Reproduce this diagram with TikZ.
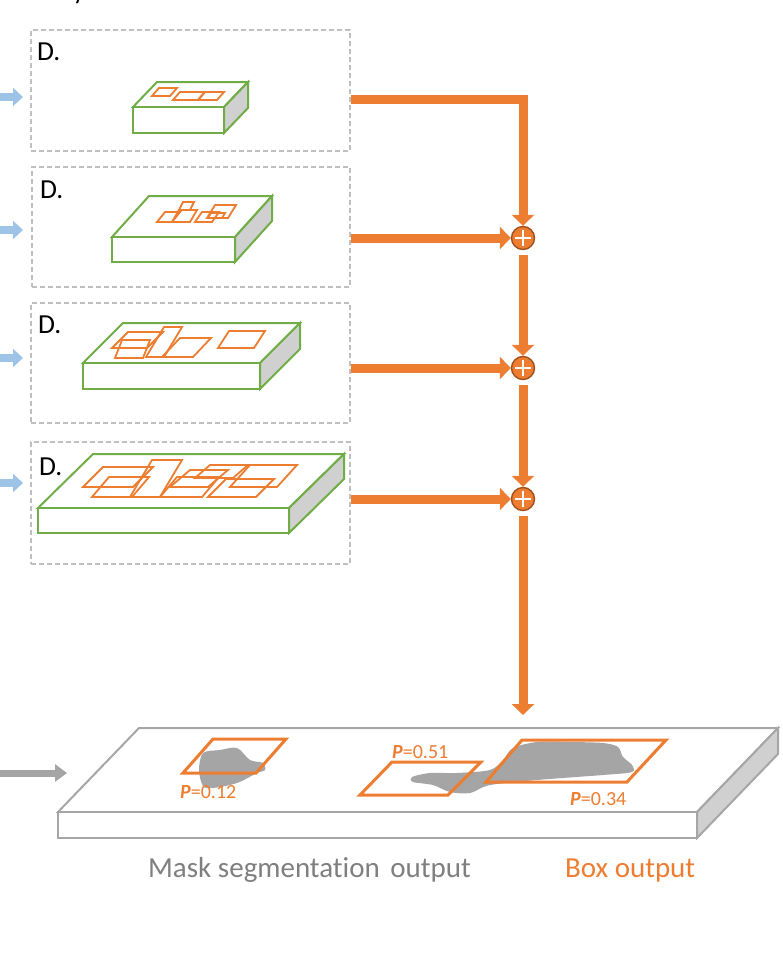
\documentclass[tikz,border=0pt]{standalone}
\usepackage{fontspec}
\setmainfont[Ligatures=NoCommon]{Carlito}
\usetikzlibrary{arrows.meta}
\definecolor{orng}{HTML}{ED7D31}
\definecolor{grn}{HTML}{70AD47}
\definecolor{lblue}{HTML}{9DC3E6}
\definecolor{sidegray}{HTML}{D0D0D0}
\definecolor{slabgray}{HTML}{A6A6A6}
\definecolor{blobgray}{HTML}{A5A5A5}
\definecolor{sumedge}{HTML}{A0501A}
\definecolor{txtgray}{HTML}{7F7F7F}
\definecolor{dashgray}{HTML}{BFBFBF}
\newcommand{\slab}[7]{%
  \filldraw[draw=#7, fill=white] (#1,#2) -- (#3,#2) -- ++(#5,#6) -- ++({#1-#3},0) -- cycle;
  \filldraw[draw=#7, fill=white] (#1,#2) rectangle (#3,#4);
  \filldraw[draw=#7, fill=sidegray] (#3,#2) -- ++(#5,#6) -- ++(0,{#4-#2}) -- (#3,#4) -- cycle;
}
\newcommand{\prect}[5]{\draw[boxline] (#1,#2) -- ++(#3,0) -- ++(#5,-#4) -- ++(-#3,0) -- cycle;}
\tikzset{
  dbox/.style={draw=dashgray, dash pattern=on 5pt off 3pt, line width=1.3pt,
    minimum width=319pt, minimum height=121pt, inner sep=0pt},
  lbl/.style={font=\fontsize{27.5}{32}\selectfont, inner sep=0pt, anchor=north west},
  conn/.style={orng, line width=9pt, line join=miter, -{Triangle[length=11pt,width=22pt]}},
  inarr/.style={lblue, line width=7.5pt, -{Triangle[length=10pt,width=18pt]}},
  grayarr/.style={blobgray, line width=7pt, -{Triangle[length=12pt,width=17pt]}},
  sum/.style={circle, fill=orng, draw=sumedge, line width=1.4pt, minimum size=23pt, inner sep=0pt,
    path picture={\draw[white, line width=2.6pt]
      (path picture bounding box.center) ++(-8,0) -- ++(16,0)
      (path picture bounding box.center) ++(0,-8) -- ++(0,16);}},
  boxline/.style={orng, line width=1.8pt, line join=miter},
  outbox/.style={orng, line width=3pt, line join=miter},
  plbl/.style={text=orng, font=\fontsize{20}{24}\selectfont, inner sep=0pt, anchor=base west},
  captext/.style={font=\fontsize{29}{34}\selectfont, inner sep=0pt, anchor=base west}
}
\begin{document}
\begin{tikzpicture}[x=1pt, y=-1pt]
  \useasboundingbox (0,0) rectangle (783,964);
  \node[font=\fontsize{26}{30}\selectfont, anchor=base, inner sep=0pt] (cut) at (79,-1) {y};

  \node[dbox] (d1) at (190.5,90.5) {};
  \node[dbox, minimum width=318pt, minimum height=120pt] (d2) at (191,227) {};
  \node[dbox, minimum height=120pt] (d3) at (190.5,363) {};
  \node[dbox, minimum height=122pt] (d4) at (190.5,503) {};
  \node[lbl] (l1) at (37,43) {D.};
  \node[lbl] (l2) at (40,181) {D.};
  \node[lbl] (l3) at (38,316) {D.};
  \node[lbl] (l4) at (39,458) {D.};

  \foreach \y/\n in {97/1,230/2,358/3,483/4}
    \draw[inarr] (0,\y) -- (23,\y);

  \begin{scope}[line width=2pt]
    \slab{133}{107}{224}{133}{24}{-25}{grn}
    \slab{112}{237}{235}{262}{37}{-41}{grn}
    \slab{83}{363}{260}{389}{40}{-40}{grn}
    \slab{38}{508}{289}{533}{55}{-54}{grn}
  \end{scope}

  \prect{152}{96}{18}{8}{7}
  \prect{173}{100}{25}{8}{7}
  \prect{198}{100}{19}{8}{7}

  \prect{157}{222}{15}{10}{8}
  \prect{172}{222}{18}{12}{7}
  \prect{179}{210}{11}{8}{4}
  \prect{195}{222}{17}{10}{7}
  \prect{207}{218}{21}{13}{8}
  \prect{208}{218}{14}{5}{3}

  \prect{112}{348}{35}{16}{16}
  \prect{115}{358}{28}{18}{7}
  \prect{146}{357}{18}{30}{18}
  \prect{162}{357}{31}{19}{18}
  \prect{218}{348}{36}{17}{11}

  \prect{83}{487}{50}{20}{20}
  \prect{92}{497}{40}{20}{17}
  \prect{130}{497}{30}{37}{22}
  \prect{160}{497}{42}{20}{17}
  \prect{170}{487}{38}{17}{20}
  \prect{195}{478}{38}{13}{15}
  \prect{208}{497}{48}{18}{18}
  \prect{230}{487}{47}{22}{20}

  \node[sum] (s1) at (523,238) {};
  \node[sum] (s2) at (523,368) {};
  \node[sum] (s3) at (523,499) {};
  \coordinate (slabtop) at (523,715);

  \draw[conn] ([yshift=-8.5pt]d1.east) -| (s1);
  \draw[conn] (d2.east |- s1) -- (s1);
  \draw[conn] (d3.east |- s2) -- (s2);
  \draw[conn] (d4.east |- s3) -- (s3);
  \draw[conn, shorten <=5pt] (s1) -- (s2);
  \draw[conn, shorten <=5pt] (s2) -- (s3);
  \draw[conn, shorten <=5pt] (s3) -- (slabtop);

  \begin{scope}[line width=2pt]
    \slab{58}{812}{697}{838}{81}{-84}{slabgray}
  \end{scope}
  \coordinate (gin) at (0,773);
  \coordinate (gout) at (67,773);
  \draw[grayarr] (gin) -- (gout);

  \fill[blobgray] plot[smooth cycle] coordinates {(203,753) (220,750) (237,748) (250,760)
    (263,763) (265,770) (257,773) (237,783) (213,788) (203,786) (199,770)};
  \fill[blobgray] plot[smooth cycle] coordinates {(412,777) (430,773) (457,773) (490,770)
    (503,760) (513,748) (537,742) (570,742) (603,743) (618,747) (623,757) (632,765)
    (632,772) (603,775) (537,780) (490,785) (470,793) (450,792) (433,785) (413,782)};

  \draw[outbox] (183,773) -- (256,773) -- (286,739) -- (213,739) -- cycle;
  \draw[outbox] (360,795) -- (448,795) -- (481,762) -- (392,762) -- cycle;
  \draw[outbox] (486,782) -- (627,782) -- (666,740) -- (522,740) -- cycle;

  \node[plbl] (p1) at (180,798) {\textbf{\textit{P}}=0.12};
  \node[plbl] (p2) at (392,758) {\textbf{\textit{P}}=0.51};
  \node[plbl] (p3) at (570,805) {\textbf{\textit{P}}=0.34};

  \node[captext, text=txtgray] (mask) at (148,877) {Mask segmentation\hspace{4pt} output};
  \node[captext, text=orng] (boxout) at (565,877) {Box output};
\end{tikzpicture}
\end{document}
